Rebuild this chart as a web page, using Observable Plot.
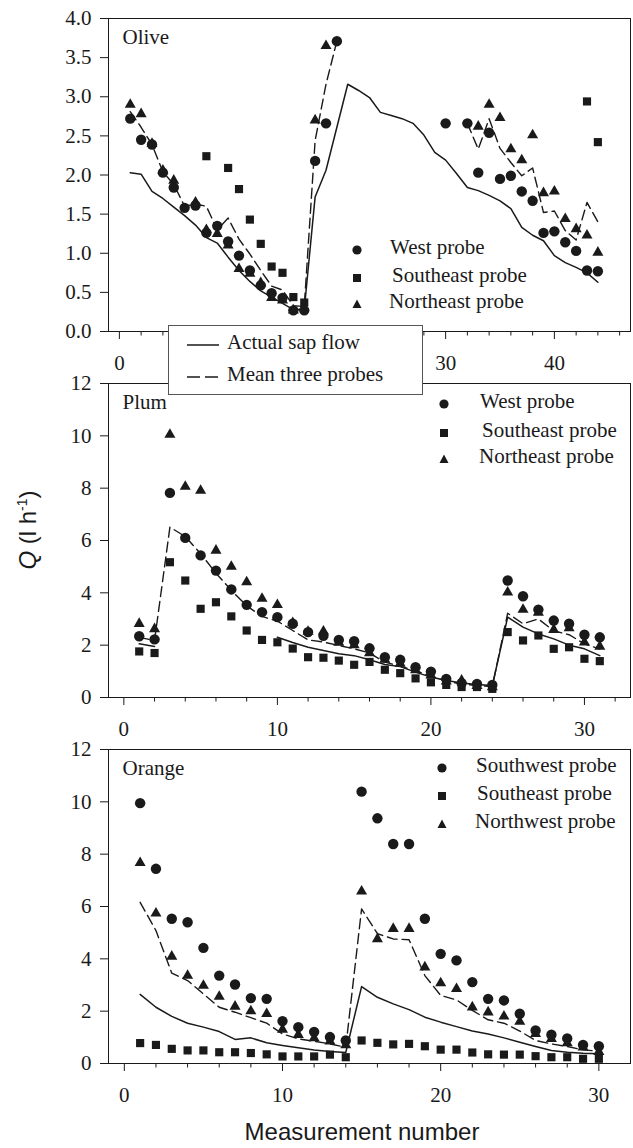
<!DOCTYPE html>
<html>
<head>
<meta charset="utf-8">
<script src="https://cdn.jsdelivr.net/npm/d3@7"></script>
<script src="https://cdn.jsdelivr.net/npm/@observablehq/plot@0.6"></script>
<style>
  body { margin: 0; background: #fff; }
  #wrap { position: relative; width: 633px; height: 1148px; overflow: hidden; background: #fff;
          font-family: "Liberation Serif", "Times New Roman", serif; color: #1a1a1a; }
  #wrap svg.panel { position: absolute; left: 0; }
  .lg { position: absolute; font-size: 21px; line-height: 1; white-space: nowrap; }
  .sym { position: absolute; }
  #linebox { position: absolute; left: 168px; top: 325px; width: 253px; height: 68px;
             border: 1px solid #555; background: #fff; z-index: 5; }
  #ytitle { position: absolute; left: 28px; top: 530px; transform: translate(-50%, -50%) rotate(-90deg);
            font-family: "Liberation Sans", Arial, sans-serif; font-size: 24px; white-space: nowrap; }
  #xtitle { position: absolute; left: 362px; top: 1132px; transform: translate(-50%, -50%);
            font-family: "Liberation Sans", Arial, sans-serif; font-size: 24px; white-space: nowrap; }
</style>
</head>
<body>
<div id="wrap"></div>
<script>
// ---------------- DATA ----------------
// Olive (measurement number, Q in l/h)
const oliveWest = [[1,2.72],[2,2.45],[3,2.39],[4,2.03],[5,1.84],[6,1.58],[7,1.61],[8,1.26],[9,1.35],[10,1.15],
  [11,0.97],[12,0.78],[13,0.59],[14,0.49],[15,0.43],[16,0.27],[17,0.27],[18,2.18],[19,2.66],[20,3.71],
  [30,2.66],[32,2.66],[33,2.03],[34,2.54],[35,1.95],[36,1.99],[37,1.79],[38,1.67],[39,1.26],[40,1.28],
  [41,1.14],[42,1.03],[43,0.78],[44,0.77]];
const oliveSoutheast = [[8,2.24],[10,2.09],[11,1.82],[12,1.43],[13,1.12],[14,0.83],[15,0.75],[16,0.44],[17,0.37],
  [43,2.94],[44,2.42]];
const oliveNortheast = [[1,2.90],[2,2.78],[3,2.40],[4,2.06],[5,1.93],[7,1.65],[8,1.30],[9,1.25],[10,1.10],
  [11,0.80],[12,0.74],[13,0.62],[14,0.43],[15,0.40],[16,0.27],[18,2.70],[19,3.65],
  [33,2.62],[34,2.90],[35,2.73],[36,2.33],[37,2.19],[38,2.51],[39,1.77],[40,1.79],[41,1.44],[42,1.31],
  [43,1.23],[44,1.01]];
const oliveActual = [[1,2.03],[2,2.01],[3,1.79],[4,1.70],[5,1.59],[6,1.48],[7,1.36],[8,1.20],[9,1.13],[10,0.95],
  [11,0.78],[12,0.64],[13,0.52],[14,0.44],[15,0.36],[16,0.28],[17,0.28],[18,1.72],[19,2.06],[20,2.61],
  [21,3.16],[22,3.08],[23,2.99],[24,2.80],[25,2.76],[26,2.72],[27,2.66],[28,2.51],[29,2.29],[30,2.19],
  [31,2.02],[32,1.84],[33,1.80],[34,1.74],[35,1.67],[36,1.57],[37,1.33],[38,1.23],[39,1.16],[40,0.97],
  [41,0.88],[42,0.82],[43,0.75],[44,0.63]];
const oliveMean = [[1,2.81],[2,2.61],[3,2.39],[4,2.04],[5,1.88],[6,1.60],[7,1.63],[8,1.60],[9,1.30],[10,1.45],
  [11,1.18],[12,0.99],[13,0.78],[14,0.58],[15,0.53],[16,0.33],[17,0.32],[18,2.44],[19,3.16],[20,3.71],
  [21,null],
  [32,2.66],[33,2.33],[34,2.72],[35,2.34],[36,2.16],[37,1.99],[38,2.09],[39,1.52],[40,1.54],[41,1.29],
  [42,1.17],[43,1.65],[44,1.40]];

// Plum
const plumWest = [[1,2.34],[2,2.22],[3,7.82],[4,6.10],[5,5.43],[6,4.85],[7,4.13],[8,3.54],[9,3.26],[10,3.07],
  [11,2.82],[12,2.50],[13,2.36],[14,2.20],[15,2.15],[16,1.88],[17,1.54],[18,1.44],[19,1.16],[20,0.99],
  [21,0.71],[22,0.55],[23,0.52],[24,0.48],[25,4.47],[26,3.87],[27,3.36],[28,2.94],[29,2.82],[30,2.40],[31,2.30]];
const plumSoutheast = [[1,1.76],[2,1.70],[3,5.17],[4,4.47],[5,3.39],[6,3.64],[7,3.10],[8,2.56],[9,2.20],[10,2.11],
  [11,1.87],[12,1.54],[13,1.52],[14,1.41],[15,1.25],[16,1.36],[17,1.06],[18,0.93],[19,0.73],[20,0.58],
  [21,0.48],[22,0.40],[23,0.40],[24,0.33],[25,2.50],[26,2.18],[27,2.37],[28,1.86],[29,1.92],[30,1.48],[31,1.39]];
const plumNortheast = [[1,2.82],[2,2.62],[3,10.05],[4,8.06],[5,7.91],[6,5.62],[7,5.00],[8,4.41],[9,3.78],[10,3.54],
  [11,2.85],[12,2.52],[13,2.53],[14,2.10],[15,2.00],[16,1.70],[17,1.45],[18,1.30],[19,1.05],[20,0.85],
  [21,0.62],[22,0.65],[23,0.45],[24,0.40],[25,4.02],[26,3.36],[27,3.25],[28,2.59],[29,2.65],[30,2.11],[31,1.95]];
const plumActual = [[1,2.05],[2,1.95],[3,null],
  [10,2.30],[11,2.10],[12,1.92],[13,1.80],[14,1.67],[15,1.60],[16,1.44],[17,1.26],[18,1.18],[19,0.97],[20,0.78],
  [21,0.65],[22,0.55],[23,0.50],[24,0.46],[25,3.07],[26,2.69],[27,2.43],[28,2.24],[29,2.00],[30,1.86],[31,1.60]];
const plumMean = [[1,2.30],[2,2.18],[3,6.51],[4,6.15],[5,5.50],[6,4.75],[7,4.10],[8,3.50],[9,3.10],[10,2.92],
  [11,2.56],[12,2.20],[13,2.12],[14,1.99],[15,1.86],[16,1.70],[17,1.35],[18,1.20],[19,1.02],[20,0.82],
  [21,0.62],[22,0.52],[23,0.46],[24,0.42],[25,3.22],[26,2.82],[27,3.00],[28,2.55],[29,2.40],[30,2.05],[31,1.85]];

// Orange
const orangeSouthwest = [[1,9.95],[2,7.44],[3,5.53],[4,5.40],[5,4.42],[6,3.36],[7,3.02],[8,2.50],[9,2.47],[10,1.62],
  [11,1.39],[12,1.21],[13,1.01],[14,0.88],[15,10.39],[16,9.37],[17,8.39],[18,8.39],[19,5.53],[20,4.19],
  [21,3.94],[22,3.11],[23,2.47],[24,2.41],[25,1.90],[26,1.26],[27,1.10],[28,0.96],[29,0.71],[30,0.66]];
const orangeSoutheast = [[1,0.78],[2,0.71],[3,0.56],[4,0.50],[5,0.50],[6,0.43],[7,0.43],[8,0.40],[9,0.35],[10,0.27],
  [11,0.27],[12,0.27],[13,0.34],[14,0.24],[15,0.88],[16,0.79],[17,0.73],[18,0.75],[19,0.66],[20,0.53],
  [21,0.53],[22,0.42],[23,0.35],[24,0.34],[25,0.34],[26,0.28],[27,0.24],[28,0.24],[29,0.18],[30,0.18]];
const orangeNorthwest = [[1,7.67],[2,5.74],[3,4.09],[4,3.36],[5,2.98],[6,2.56],[7,2.18],[8,2.00],[9,1.90],[10,1.30],
  [11,1.10],[12,0.97],[13,0.85],[14,0.70],[15,6.58],[16,4.76],[17,5.15],[18,5.15],[19,3.68],[20,3.07],
  [21,2.85],[22,2.15],[23,1.96],[24,1.80],[25,1.60],[26,1.13],[27,0.94],[28,0.78],[29,0.62],[30,0.45]];
const orangeActual = [[1,2.64],[2,2.15],[3,1.80],[4,1.54],[5,1.39],[6,1.22],[7,0.92],[8,0.98],[9,0.79],[10,0.69],
  [11,0.60],[12,0.52],[13,0.46],[14,0.42],[15,2.94],[16,2.53],[17,2.28],[18,2.06],[19,1.77],[20,1.58],
  [21,1.41],[22,1.24],[23,1.13],[24,0.98],[25,0.81],[26,0.65],[27,0.50],[28,0.43],[29,0.39],[30,0.37]];
const orangeMean = [[1,6.16],[2,5.08],[3,3.45],[4,3.17],[5,2.66],[6,2.15],[7,1.96],[8,1.75],[9,1.54],[10,1.13],
  [11,0.94],[12,0.85],[13,0.75],[14,0.62],[15,5.91],[16,4.96],[17,4.76],[18,4.73],[19,3.36],[20,2.60],
  [21,2.43],[22,2.03],[23,1.67],[24,1.54],[25,1.24],[26,0.88],[27,0.75],[28,0.65],[29,0.52],[30,0.47]];

// Ticks and labels
const oliveYTicks = [0,0.5,1,1.5,2,2.5,3,3.5,4];
const qYTicks = [0,2,4,6,8,10,12];
const oliveXLabeled = [0,30,40];        // 10 and 20 sit under the line-legend box
const oliveXHidden = [10,20];
const oliveXMinor = [2,4,6,8,12,14,16,18,22,24,26,28,32,34,36,38,42,44,46];
const plumXMajor = [0,10,20,30];
const plumXMinor = [2,4,6,8,12,14,16,18,22,24,26,28,32];
const orangeXMajor = [0,10,20,30];
const orangeXMinor = [2,4,6,8,12,14,16,18,22,24,26,28];
const oliveLegend = ["West probe", "Southeast probe", "Northeast probe"];
const plumLegend = ["West probe", "Southeast probe", "Northeast probe"];
const orangeLegend = ["Southwest probe", "Southeast probe", "Northwest probe"];
const lineLegend = ["Actual sap flow", "Mean three probes"];

// ---------------- DRAW ----------------
const wrap = document.getElementById("wrap");
const INK = "#1a1a1a";
const X = d => d[0], Y = d => d[1];

function panel(cfg) {
  const marks = [
    Plot.axisY({ticks: cfg.yTicks, tickSize: 8, tickPadding: 9, label: null,
                tickFormat: cfg.yFmt ? d3.format(cfg.yFmt) : d => String(d)}),
    Plot.axisX({ticks: cfg.xMinor, tickSize: 4.5, tickFormat: () => "", label: null}),
    Plot.axisX({ticks: cfg.xMajor, tickSize: 8, tickPadding: 16, label: null})
  ];
  if (cfg.xHidden) marks.push(Plot.axisX({ticks: cfg.xHidden, tickSize: 8, tickFormat: () => "", label: null}));
  marks.push(
    Plot.frame({stroke: INK, strokeWidth: 1}),
    Plot.line(cfg.actual, {x: X, y: Y, stroke: INK, strokeWidth: 1.5}),
    Plot.line(cfg.mean, {x: X, y: Y, stroke: INK, strokeWidth: 1.4, strokeDasharray: "10,5"}),
    Plot.dot(cfg.s2, {x: X, y: Y, symbol: "square", r: 4.6, fill: INK}),
    Plot.dot(cfg.s3, {x: X, y: Y, symbol: "triangle", r: 4.1, fill: INK}),
    Plot.dot(cfg.s1, {x: X, y: Y, symbol: "circle", r: 5.2, fill: INK}),
    Plot.text([cfg.name], {frameAnchor: "top-left", dx: 14, dy: 11, fill: INK, fontSize: 21})
  );
  const svg = Plot.plot({
    width: 633, height: cfg.height,
    marginLeft: 108, marginRight: 3, marginTop: cfg.mt, marginBottom: cfg.mb,
    x: {domain: cfg.xd},
    y: {domain: cfg.yd},
    style: {fontFamily: "'Liberation Serif', 'Times New Roman', serif", fontSize: "21px",
            background: "transparent", overflow: "visible", color: INK},
    marks
  });
  svg.classList.add("panel");
  svg.style.top = cfg.top + "px";
  wrap.appendChild(svg);
}

panel({name: "Olive", top: 0, height: 372, mt: 18, mb: 41, xd: [-1, 47], yd: [0, 4],
  yTicks: oliveYTicks, yFmt: ".1f", xMajor: oliveXLabeled, xHidden: oliveXHidden, xMinor: oliveXMinor,
  actual: oliveActual, mean: oliveMean, s1: oliveWest, s2: oliveSoutheast, s3: oliveNortheast});
panel({name: "Plum", top: 372, height: 368, mt: 11, mb: 43, xd: [-1, 33], yd: [0, 12],
  yTicks: qYTicks, xMajor: plumXMajor, xMinor: plumXMinor,
  actual: plumActual, mean: plumMean, s1: plumWest, s2: plumSoutheast, s3: plumNortheast});
panel({name: "Orange", top: 740, height: 408, mt: 9, mb: 85, xd: [-1, 32], yd: [0, 12],
  yTicks: qYTicks, xMajor: orangeXMajor, xMinor: orangeXMinor,
  actual: orangeActual, mean: orangeMean, s1: orangeSouthwest, s2: orangeSoutheast, s3: orangeNorthwest});

// symbol legends
function symbolSvg(kind) {
  let shape;
  if (kind === 0) shape = `<circle cx="6" cy="6" r="4.6" fill="${INK}"/>`;
  else if (kind === 1) shape = `<rect x="2" y="2" width="8" height="8" fill="${INK}"/>`;
  else shape = `<path d="M6,1.5 L10.5,10 L1.5,10 Z" fill="${INK}"/>`;
  return `<svg width="12" height="12" viewBox="0 0 12 12">${shape}</svg>`;
}
function symLegend(labels, sx, rows, textX) {
  labels.forEach((lab, i) => {
    const s = document.createElement("div");
    s.className = "sym";
    s.style.left = (sx - 6) + "px";
    s.style.top = (rows[i] - 6) + "px";
    s.innerHTML = symbolSvg(i);
    wrap.appendChild(s);
    const t = document.createElement("div");
    t.className = "lg";
    t.style.left = textX[i] + "px";
    t.style.top = (rows[i] - 11) + "px";
    t.textContent = lab;
    wrap.appendChild(t);
  });
}
symLegend(oliveLegend, 357, [248, 276, 302], [390, 392, 389]);
symLegend(plumLegend, 444, [402, 431, 457], [480, 482, 479]);
symLegend(orangeLegend, 442, [766, 794, 822], [476, 477, 475]);

// line legend box
const box = document.createElement("div");
box.id = "linebox";
lineLegend.forEach((lab, i) => {
  const cy = i === 0 ? 17 : 49;
  const ln = document.createElement("div");
  ln.style.cssText = `position:absolute;left:17px;top:${cy - 6}px;`;
  ln.innerHTML = `<svg width="34" height="12"><line x1="1" y1="6" x2="33" y2="6" stroke="${INK}" stroke-width="1.5" ${i ? 'stroke-dasharray="13,5"' : ''}/></svg>`;
  box.appendChild(ln);
  const t = document.createElement("div");
  t.className = "lg";
  t.style.left = "58px";
  t.style.top = (cy - 11) + "px";
  t.textContent = lab;
  box.appendChild(t);
});
wrap.appendChild(box);

// axis titles
const yt = document.createElement("div");
yt.id = "ytitle";
yt.innerHTML = `<i>Q</i> (l h<sup style="font-size:14px;vertical-align:9px;line-height:0">-1</sup>)`;
wrap.appendChild(yt);
const xt = document.createElement("div");
xt.id = "xtitle";
xt.textContent = "Measurement number";
wrap.appendChild(xt);
</script>
</body>
</html>
